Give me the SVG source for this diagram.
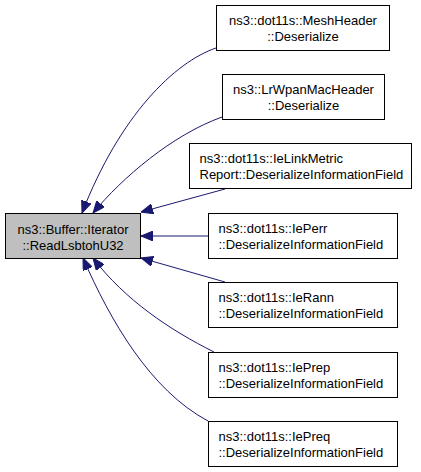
<svg xmlns="http://www.w3.org/2000/svg" width="421" height="472" viewBox="0 0 421 472">
<style>
.box{fill:#ffffff;stroke:#000000;stroke-width:1}
.main{fill:#bfbfbf;stroke:#000000;stroke-width:1}
text{font-family:"Liberation Sans",Arial,sans-serif;font-size:13px;fill:#000000}
.c{text-anchor:middle}
.e{fill:none;stroke:#191970;stroke-width:1}
</style>
<defs>
<marker id="ah" markerUnits="userSpaceOnUse" viewBox="0 0 12 10" refX="12" refY="5" markerWidth="12" markerHeight="10" orient="auto">
<polygon points="0,0 12,5 0,10" fill="#191970" stroke="#191970" stroke-width="1"/>
</marker>
</defs>
<g id="connectors">
<path class="e" marker-end="url(#ah)" d="M216,48 C175,62 120,115 82,213"/>
<path class="e" marker-end="url(#ah)" d="M222,117 C172,135 122,178 93,213"/>
<path class="e" marker-end="url(#ah)" d="M225,189 L141,212"/>
<path class="e" marker-end="url(#ah)" d="M208,236 L141,236"/>
<path class="e" marker-end="url(#ah)" d="M225,282 L141,258"/>
<path class="e" marker-end="url(#ah)" d="M214,352 C170,330 125,300 93,258"/>
<path class="e" marker-end="url(#ah)" d="M208,421 C150,390 110,320 83,258"/>
</g>
<g id="n0">
<rect class="main" x="5.5" y="213.5" width="135" height="45"/>
<text class="c" x="73" y="233.5">ns3::Buffer::Iterator</text>
<text class="c" x="73" y="249.5">::ReadLsbtohU32</text>
</g>
<g id="n1">
<rect class="box" x="216.5" y="5.5" width="173" height="45"/>
<text class="c" x="303" y="25">ns3::dot11s::MeshHeader</text>
<text class="c" x="303" y="41">::Deserialize</text>
</g>
<g id="n2">
<rect class="box" x="222.5" y="74.5" width="162" height="45"/>
<text class="c" x="303.5" y="94">ns3::LrWpanMacHeader</text>
<text class="c" x="303.5" y="110">::Deserialize</text>
</g>
<g id="n3">
<rect class="box" x="189.5" y="143.5" width="222" height="45"/>
<text x="199.5" y="163">ns3::dot11s::IeLinkMetric</text>
<text x="199.5" y="179">Report::DeserializeInformationField</text>
</g>
<g id="n4">
<rect class="box" x="208.5" y="213.5" width="189" height="45"/>
<text x="218.5" y="233">ns3::dot11s::IePerr</text>
<text x="218.5" y="249">::DeserializeInformationField</text>
</g>
<g id="n5">
<rect class="box" x="208.5" y="282.5" width="189" height="45"/>
<text x="218.5" y="302">ns3::dot11s::IeRann</text>
<text x="218.5" y="318">::DeserializeInformationField</text>
</g>
<g id="n6">
<rect class="box" x="208.5" y="352.5" width="189" height="45"/>
<text x="218.5" y="372">ns3::dot11s::IePrep</text>
<text x="218.5" y="388">::DeserializeInformationField</text>
</g>
<g id="n7">
<rect class="box" x="208.5" y="421.5" width="189" height="45"/>
<text x="218.5" y="441">ns3::dot11s::IePreq</text>
<text x="218.5" y="457">::DeserializeInformationField</text>
</g>
</svg>
